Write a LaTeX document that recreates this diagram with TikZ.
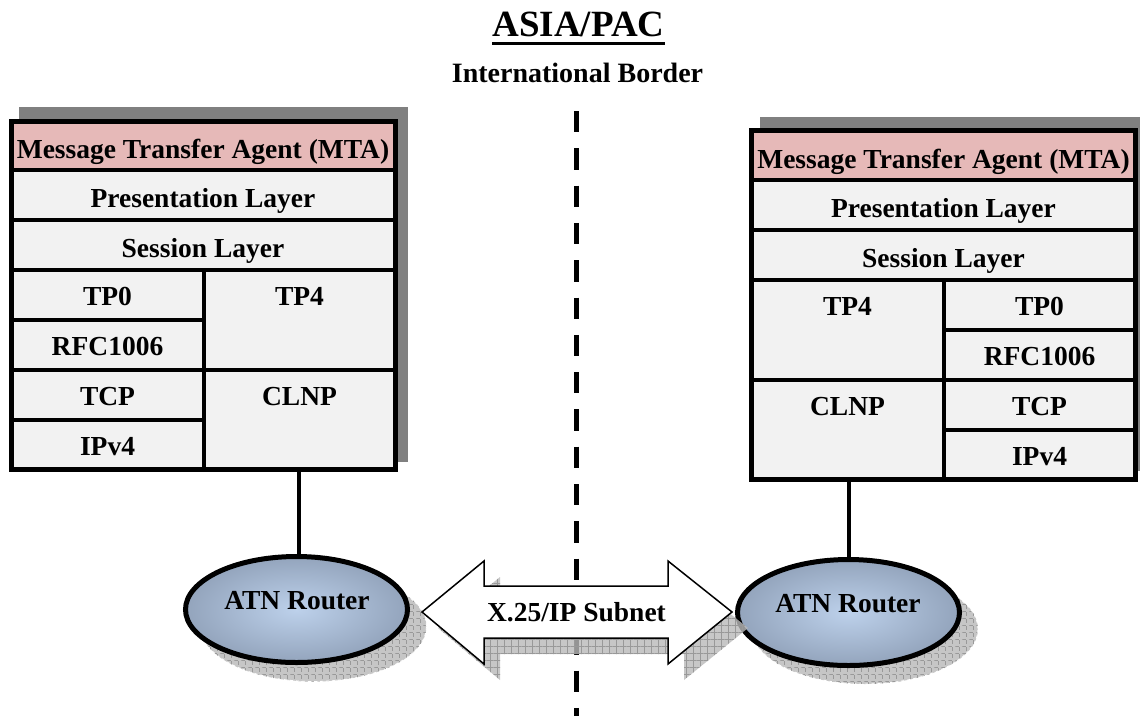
\documentclass[tikz,border=0pt]{standalone}
\usepackage{fontspec}
\setmainfont{Liberation Serif}
\usetikzlibrary{shapes.geometric,patterns.meta}
\definecolor{mtapink}{HTML}{E6B9B8}
\definecolor{cellgray}{HTML}{F2F2F2}
\definecolor{shadowgray}{HTML}{808080}
\definecolor{rinner}{HTML}{BDD1EB}
\definecolor{routerc}{HTML}{93A4BC}
\begin{document}
\begin{tikzpicture}[x=1pt,y=-1pt,
  cell/.style={draw=black, line width=4pt, fill=cellgray},
  mtacell/.style={cell, fill=mtapink},
  outerbox/.style={draw=black, line width=5pt},
  boxshadow/.style={fill=shadowgray},
  lbl/.style={font=\fontsize{27.5}{33}\selectfont\bfseries, anchor=base, inner sep=0pt},
  routerstyle/.style={ellipse, draw=black, line width=5pt, inner color=rinner, outer color=routerc,
    minimum width=222pt, minimum height=106pt, inner sep=0pt},
  hatch/.style={preaction={fill=gray!45},
    pattern={Lines[angle=0,distance=7pt,line width=0.7pt]}, pattern color=gray!80,
    postaction={pattern={Lines[angle=90,distance=7pt,line width=0.7pt]}, pattern color=gray!80}},
  routershadow/.style={ellipse, hatch, draw=white, dashed, line width=0.8pt,
    minimum width=226pt, minimum height=110pt, inner sep=0pt},
  conn/.style={draw=black, line width=4pt},
  borderline/.style={draw=black, line width=5pt, dash pattern=on 21.3pt off 16pt},
  bigarrow/.style={draw=black, line width=1.5pt, fill=white, line join=miter},
  arrowshadow/.style={preaction={fill=gray!55, fill opacity=0.8},
    pattern={Lines[angle=0,distance=7pt,line width=0.7pt]}, pattern color=gray!80,
    postaction={pattern={Lines[angle=90,distance=7pt,line width=0.7pt]}, pattern color=gray!80}}
]
\useasboundingbox (0,0) rectangle (1140,716);

% title
\node[font=\fontsize{37}{44}\selectfont\bfseries, anchor=base, inner sep=0pt] (title) at (578.5,36) {ASIA/PAC};
\draw[line width=3pt] ([yshift=-7pt]title.base west) -- ([yshift=-7pt]title.base east);
\node[font=\fontsize{28}{33}\selectfont\bfseries, anchor=base, inner sep=0pt] (border) at (577.5,82) {International Border};

% border line
\coordinate (bordertop) at (576,111);
\coordinate (borderbot) at (576,716);
\draw[borderline] (bordertop) -- (borderbot);

% left stack
\fill[boxshadow] (19,107) rectangle (408,462);
\draw[mtacell] (11,121) rectangle (395,170);
\draw[cell] (11,170) rectangle (395,220);
\draw[cell] (11,220) rectangle (395,270);
\draw[cell] (11,270) rectangle (204,320);
\draw[cell] (11,320) rectangle (204,370);
\draw[cell] (204,270) rectangle (395,370);
\draw[cell] (11,370) rectangle (204,420);
\draw[cell] (11,420) rectangle (204,469);
\draw[cell] (204,370) rectangle (395,469);
\draw[outerbox] (11,121) rectangle (395,469);
\node[lbl] (lmta) at (203,158) {Message Transfer Agent (MTA)};
\node[lbl] (lpres) at (203,207) {Presentation Layer};
\node[lbl] (lsess) at (203,257) {Session Layer};
\node[lbl] (ltp0) at (107.5,305) {TP0};
\node[lbl] (ltp4) at (299.5,305) {TP4};
\node[lbl] (lrfc) at (107.5,355) {RFC1006};
\node[lbl] (ltcp) at (107.5,405) {TCP};
\node[lbl] (lclnp) at (299.5,405) {CLNP};
\node[lbl] (lip) at (107.5,455) {IPv4};
\coordinate (lstk) at (299,469);

% right stack
\fill[boxshadow] (760,117) rectangle (1149,471);
\draw[mtacell] (751.5,130.5) rectangle (1135.5,180);
\draw[cell] (751.5,180) rectangle (1135.5,230);
\draw[cell] (751.5,230) rectangle (1135.5,280);
\draw[cell] (751.5,280) rectangle (943.5,380);
\draw[cell] (943.5,280) rectangle (1135.5,330);
\draw[cell] (943.5,330) rectangle (1135.5,380);
\draw[cell] (751.5,380) rectangle (943.5,479.5);
\draw[cell] (943.5,380) rectangle (1135.5,430);
\draw[cell] (943.5,430) rectangle (1135.5,479.5);
\draw[outerbox] (751.5,130.5) rectangle (1135.5,479.5);
\node[lbl] (rmta) at (943.5,168) {Message Transfer Agent (MTA)};
\node[lbl] (rpres) at (943.5,217) {Presentation Layer};
\node[lbl] (rsess) at (943.5,267) {Session Layer};
\node[lbl] (rtp4) at (847.5,315) {TP4};
\node[lbl] (rtp0) at (1039.5,315) {TP0};
\node[lbl] (rrfc) at (1039.5,365) {RFC1006};
\node[lbl] (rclnp) at (847.5,415) {CLNP};
\node[lbl] (rtcp) at (1039.5,415) {TCP};
\node[lbl] (rip) at (1039.5,465) {IPv4};
\coordinate (rstk) at (848.5,479.5);

% routers
\node[routershadow] (lrshadow) at (313.5,626.5) {};
\node[routershadow] (rrshadow) at (865,629) {};
\node[routerstyle] (lrouter) at (296.5,609.5) {};
\node[routerstyle] (rrouter) at (848.5,612.5) {};
\node[lbl] (lrtext) at (297,609) {ATN Router};
\node[lbl] (rrtext) at (848,612) {ATN Router};
\draw[conn] (lstk) -- (lstk |- lrouter.north);
\draw[conn] (rstk) -- (rstk |- rrouter.north);

% subnet arrow
\begin{scope}[shift={(16,16)}]
\fill[arrowshadow] (422,612) -- (484,561) -- (484,586) -- (668,586) -- (668,561) -- (732,612)
  -- (668,664) -- (668,638) -- (484,638) -- (484,664) -- cycle;
\end{scope}
\path[bigarrow] (422,612) -- (484,561) -- (484,586) -- (668,586) -- (668,561) -- (732,612)
  -- (668,664) -- (668,638) -- (484,638) -- (484,664) -- cycle;
\node[lbl] (subnet) at (576.5,621) {X.25/IP Subnet};
\end{tikzpicture}
\end{document}
